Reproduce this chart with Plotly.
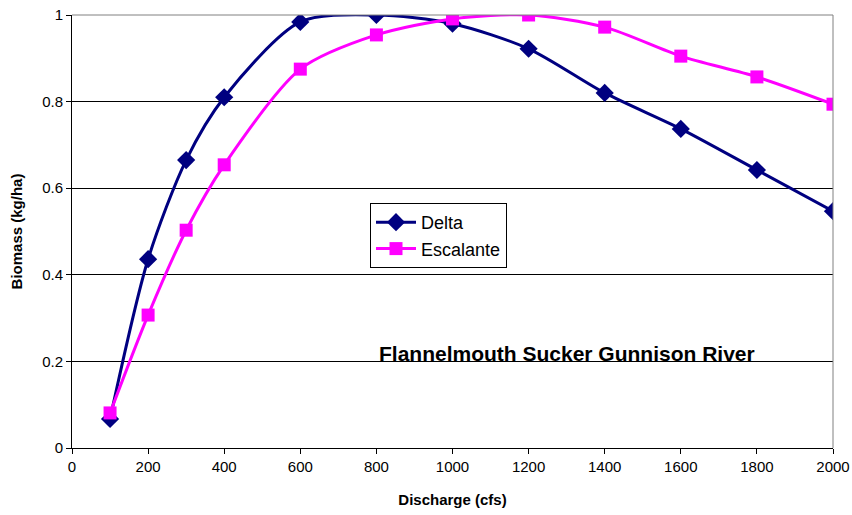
import plotly.graph_objects as go

discharge = [100, 200, 300, 400, 600, 800, 1000, 1200, 1400, 1600, 1800, 2000]
delta = [0.067, 0.436, 0.665, 0.81, 0.984, 1.0, 0.98, 0.922, 0.82, 0.737, 0.642, 0.547]
escalante = [0.081, 0.307, 0.503, 0.654, 0.875, 0.954, 0.991, 1.0, 0.972, 0.905, 0.857, 0.794]
x_ticks = list(range(0, 2001, 200))
y_ticks = [0, 0.2, 0.4, 0.6, 0.8, 1]
y_tick_labels = ["0", "0.2", "0.4", "0.6", "0.8", "1"]

FONT = "Liberation Sans, Arial, sans-serif"

fig = go.Figure()
fig.add_trace(go.Scatter(
    x=discharge, y=delta, name="Delta", mode="lines+markers",
    line=dict(color="#000080", width=3, shape="spline", smoothing=0.8),
    marker=dict(symbol="diamond", size=14, color="#000080"),
))
fig.add_trace(go.Scatter(
    x=discharge, y=escalante, name="Escalante", mode="lines+markers",
    line=dict(color="#FF00FF", width=3, shape="spline", smoothing=0.8),
    marker=dict(symbol="square", size=13, color="#FF00FF"),
))

fig.add_annotation(
    x=(567 - 72) / 761, y=(448 - 353) / 433, xref="paper", yref="paper",
    xanchor="center", yanchor="middle",
    text="<b>Flannelmouth Sucker Gunnison River</b>", showarrow=False,
    font=dict(family=FONT, size=21, color="black"),
)

# top and right border of the plot area
fig.add_shape(type="line", xref="paper", yref="paper", x0=0, x1=1, y0=1, y1=1,
              line=dict(color="#808080", width=1))
fig.add_shape(type="line", xref="paper", yref="paper", x0=1, x1=1, y0=0, y1=1,
              line=dict(color="#808080", width=1))

fig.update_layout(
    width=852, height=515,
    margin=dict(l=72, r=19, t=15, b=67),
    paper_bgcolor="white", plot_bgcolor="white",
    font=dict(family=FONT, size=15, color="black"),
    showlegend=True,
    hovermode=False,
    legend=dict(
        x=(370 - 72) / 761, y=(448 - 203) / 433, xanchor="left", yanchor="top",
        bordercolor="black", borderwidth=1, bgcolor="white",
        font=dict(family=FONT, size=18, color="black"),
        tracegroupgap=0, itemwidth=40,
    ),
    xaxis=dict(
        range=[0, 2000], tickvals=x_ticks, showgrid=False,
        showline=True, linecolor="black", linewidth=1,
        ticks="outside", ticklen=5, tickcolor="black",
        title=dict(text="<b>Discharge (cfs)</b>", font=dict(size=15), standoff=20),
        zeroline=False, tickfont=dict(size=15), automargin=False,
    ),
    yaxis=dict(
        range=[0, 1], tickvals=y_ticks, ticktext=y_tick_labels,
        showgrid=True, gridcolor="black", gridwidth=1,
        showline=True, linecolor="black", linewidth=1,
        ticks="outside", ticklen=5, tickcolor="black",
        title=dict(text="<b>Biomass (kg/ha)</b>", font=dict(size=15), standoff=15),
        zeroline=False, tickfont=dict(size=15), automargin=False,
    ),
)

fig.write_html("out.html", config={"displayModeBar": False},
               post_script="document.body.style.margin='0';")
